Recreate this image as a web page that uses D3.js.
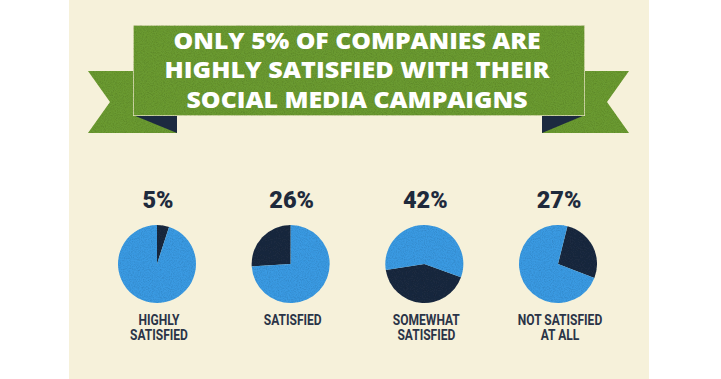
<!DOCTYPE html>
<html>
<head>
<meta charset="utf-8">
<script src="https://cdn.jsdelivr.net/npm/d3@7"></script>
<style>
  html, body { margin: 0; padding: 0; background: #ffffff; }
  svg { display: block; }
</style>
</head>
<body>
<div id="chart"></div>
<script>
// data
const titleLines = ["ONLY 5% OF COMPANIES ARE", "HIGHLY SATISFIED WITH THEIR", "SOCIAL MEDIA CAMPAIGNS"]
const categories = [["HIGHLY", "SATISFIED"], ["SATISFIED"], ["SOMEWHAT", "SATISFIED"], ["NOT SATISFIED", "AT ALL"]]
const percents = [5, 26, 42, 27]
// where the dark slice starts, degrees clockwise from 12 o'clock
const startDeg = [0, -93.6, 110, 14]

let width = 721
let height = 379

const cream = "#f6f1da",
    green = "#6b9a30",
    navy = "#1c2a40",
    blue = "#3b9ae2",
    labelColor = "#2a3447"

let svg = d3.select("#chart")
  .append("svg")
  .attr("width", width)
  .attr("height", height)

// paper grain
let defs = svg.append("defs")
let grain = defs.append("filter").attr("id", "grain")
  .attr("x", 0).attr("y", 0).attr("width", "100%").attr("height", "100%")
grain.append("feTurbulence")
  .attr("type", "fractalNoise")
  .attr("baseFrequency", 0.9)
  .attr("numOctaves", 2)
  .attr("seed", 3)
  .attr("result", "noise")
grain.append("feColorMatrix")
  .attr("in", "noise")
  .attr("type", "matrix")
  .attr("values", "0 0 0 0 0  0 0 0 0 0  0 0 0 0 0  0 0 0 -0.5 0.3")
  .attr("result", "dots")
grain.append("feComposite")
  .attr("in", "dots").attr("in2", "SourceGraphic").attr("operator", "in")
  .attr("result", "shade")
grain.append("feMerge").call(m => {
  m.append("feMergeNode").attr("in", "SourceGraphic")
  m.append("feMergeNode").attr("in", "shade")
})

// cream page
svg.append("rect")
  .attr("x", 69).attr("y", 0)
  .attr("width", 580).attr("height", height)
  .attr("fill", cream)

// ribbon banner
let banner = svg.append("g")
let line = d3.line()

banner.append("path")
  .attr("d", line([[88, 71], [177, 71], [177, 133], [88, 133], [110, 102]]) + "Z")
  .attr("fill", green)
  .attr("filter", "url(#grain)")
banner.append("path")
  .attr("d", line([[629, 71], [542, 71], [542, 133], [629, 133], [607, 102]]) + "Z")
  .attr("fill", green)
  .attr("filter", "url(#grain)")
banner.append("path")
  .attr("d", line([[133, 115], [177, 115], [177, 133]]) + "Z")
  .attr("fill", navy)
banner.append("path")
  .attr("d", line([[542, 115], [585, 115], [542, 133]]) + "Z")
  .attr("fill", navy)
banner.append("rect")
  .attr("x", 133).attr("y", 25)
  .attr("width", 452).attr("height", 91)
  .attr("fill", green)
  .attr("stroke", "#e9e6c4")
  .attr("stroke-width", 1.5)
  .attr("filter", "url(#grain)")

const titleWidths = [367, 385, 341]
banner.selectAll("text.title")
  .data(titleLines)
  .enter()
  .append("text")
  .attr("class", "title")
  .attr("x", 357)
  .attr("y", (d, i) => 49 + i * 29.3)
  .attr("text-anchor", "middle")
  .attr("textLength", (d, i) => titleWidths[i])
  .attr("lengthAdjust", "spacingAndGlyphs")
  .style("font-family", "'Open Sans', Lato, sans-serif")
  .style("font-weight", 800)
  .style("font-size", "22px")
  .style("fill", "#ffffff")
  .text(d => d)

// pies
let x = d3.scalePoint()
  .domain(d3.range(percents.length))
  .range([157, 558])

let radius = 39
let cy = 264
let arc = d3.arc().innerRadius(0).outerRadius(radius)

let pies = svg.append("g")
  .selectAll("g")
  .data(percents)
  .enter()
  .append("g")
  .attr("transform", (d, i) => "translate(" + x(i) + "," + cy + ")")

pies.each(function(d, i) {
  let a0 = startDeg[i] * Math.PI / 180
  let pie = d3.pie().sort(null).startAngle(a0).endAngle(a0 + 2 * Math.PI)
  d3.select(this).selectAll("path")
    .data(pie([d, 100 - d]))
    .enter()
    .append("path")
    .attr("d", arc)
    .attr("fill", (s, j) => j == 0 ? navy : blue)
    .attr("filter", "url(#grain)")
})

// percent labels
pies.append("text")
  .attr("x", 1)
  .attr("y", -56)
  .attr("text-anchor", "middle")
  .style("font-family", "Roboto, 'DejaVu Sans', sans-serif")
  .style("font-weight", 900)
  .style("font-size", "23.5px")
  .style("fill", "#1e2a3c")
  .text(d => d + "%")

// category labels
pies.each(function(d, i) {
  let t = d3.select(this).append("text")
    .attr("text-anchor", "middle")
    .attr("transform", "scale(0.86,1)")
    .style("font-family", "Roboto, 'DejaVu Sans', sans-serif")
    .style("font-weight", 700)
    .style("font-size", "14px")
    .style("fill", labelColor)
  t.selectAll("tspan")
    .data(categories[i])
    .enter()
    .append("tspan")
    .attr("x", 2 / 0.86)
    .attr("y", (s, j) => 61 + j * 15.5)
    .text(s => s)
})
</script>
</body>
</html>
